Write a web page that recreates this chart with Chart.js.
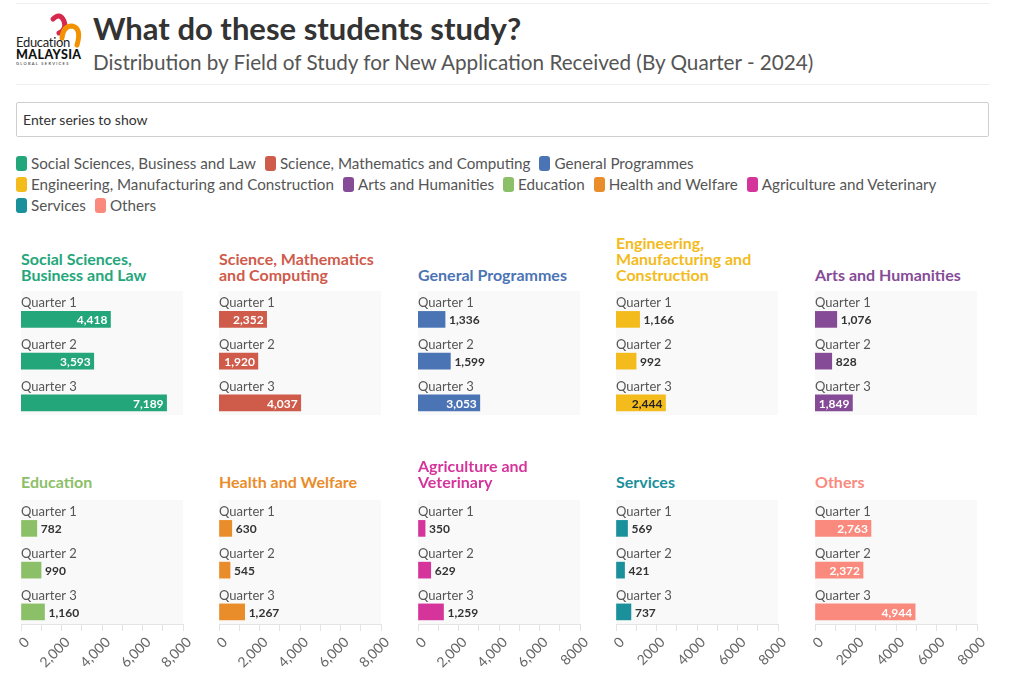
<!DOCTYPE html>
<html>
<head>
<meta charset="utf-8">
<script src="https://cdn.jsdelivr.net/npm/chart.js@4.4.1/dist/chart.umd.min.js"></script>
<style>
  body { margin: 0; width: 1024px; height: 686px; overflow: hidden; position: relative; background: #fff; font-family: Lato, "Noto Sans", sans-serif; color: #333; }
  .rule { position: absolute; left: 16px; width: 974px; height: 1px; background: #f0f0f0; }
  #title { position: absolute; left: 93px; top: 11px; font-size: 31px; line-height: 34px; font-weight: 700; color: #333; white-space: nowrap; }
  #subtitle { position: absolute; left: 93px; top: 49px; font-size: 20.7px; line-height: 26px; color: #555; white-space: nowrap; }
  #search { position: absolute; left: 16px; top: 102px; width: 973px; height: 35px; border: 1px solid #cfcfcf; border-radius: 2px; box-sizing: border-box; font-size: 14px; color: #333; padding: 8px 6px; }
  #legend { position: absolute; left: 16px; top: 154px; width: 975px; display: flex; flex-wrap: wrap; row-gap: 3px; font-size: 15.2px; color: #555; }
  .item { display: flex; align-items: center; margin-right: 9px; height: 18px; }
  .sw { width: 11px; height: 15px; border-radius: 3px; margin-right: 4px; }
  .ptitle { position: absolute; width: 190px; font-size: 16px; font-weight: 700; line-height: 16px; }
  canvas { position: absolute; }
</style>
</head>
<body>
<div class="rule" style="top:3px"></div>
<div class="rule" style="top:84px"></div>
<svg style="position:absolute;left:0;top:0" width="90" height="72" viewBox="0 0 90 72">
  <path d="M53,19 Q60,12 64,21 Q67,30 59,33" fill="none" stroke="#d62a4c" stroke-width="5" stroke-linecap="round"/>
  <path d="M62,38 Q63,26 72,26 Q82,28 77,45" fill="none" stroke="#f29200" stroke-width="5" stroke-linecap="round"/>
  <text x="16" y="47" font-size="13" font-family="Lato" fill="#222" letter-spacing="-0.3">Education</text>
  <text x="16" y="59" font-size="12.5" font-weight="900" font-family="Lato" fill="#111" letter-spacing="0.4">MALAYSIA</text>
  <text x="16" y="65" font-size="4" font-family="Lato" fill="#222" letter-spacing="1.3">GLOBAL SERVICES</text>
</svg>
<div id="title">What do these students study?</div>
<div id="subtitle">Distribution by Field of Study for New Application Received (By Quarter - 2024)</div>
<div id="search">Enter series to show</div>
<div id="legend"></div>
<script>
const quarters = ['Quarter 1', 'Quarter 2', 'Quarter 3'];
const fields = [
  'Social Sciences, Business and Law',
  'Science, Mathematics and Computing',
  'General Programmes',
  'Engineering, Manufacturing and Construction',
  'Arts and Humanities',
  'Education',
  'Health and Welfare',
  'Agriculture and Veterinary',
  'Services',
  'Others'
];
// panel headings as they wrap in the original
const fieldTitles = [
  'Social Sciences,<br>Business and Law',
  'Science, Mathematics<br>and Computing',
  'General Programmes',
  'Engineering,<br>Manufacturing and<br>Construction',
  'Arts and Humanities',
  'Education',
  'Health and Welfare',
  'Agriculture and<br>Veterinary',
  'Services',
  'Others'
];
const colors = ['#24a67b', '#cf5b4b', '#4b74b5', '#f3bb1c', '#864b97', '#8cc068', '#e98d2a', '#d5349b', '#1a909b', '#f98a7d'];
const quarter1 = [4418, 2352, 1336, 1166, 1076, 782, 630, 350, 569, 2763];
const quarter2 = [3593, 1920, 1599, 992, 828, 990, 545, 629, 421, 2372];
const quarter3 = [7189, 4037, 3053, 2444, 1849, 1160, 1267, 1259, 737, 4944];

const ticksComma = ['0', '', '2,000', '', '4,000', '', '6,000', '', '8,000'];
const ticksMixed = ['0', '', '2,000', '', '4,000', '', '6,000', '', '8000'];
const ticksPlain = ['0', '', '2000', '', '4000', '', '6000', '', '8000'];
const bottomTicks = [ticksComma, ticksComma, ticksMixed, ticksPlain, ticksPlain];

const colLeft = [21, 219, 418, 616, 815];
const rowTop = [291, 500];
const titleBottom = [283, 490];
const plotW = 162, plotH = 124, axisH = 62, padL = 14, padR = 30;
const yMin = -0.68, yMax = 2.29;

// legend
const legend = document.getElementById('legend');
fields.forEach((f, i) => {
  const it = document.createElement('div');
  it.className = 'item';
  it.innerHTML = '<span class="sw" style="background:' + colors[i] + '"></span>' + f;
  legend.appendChild(it);
});

const fmt = v => v.toLocaleString('en-US');

const panelPlugin = {
  id: 'panel',
  beforeDraw(chart) {
    const a = chart.chartArea, ctx = chart.ctx;
    ctx.save();
    ctx.fillStyle = '#f9f9f9';
    ctx.fillRect(a.left, a.top, a.right - a.left, a.bottom - a.top);
    ctx.restore();
  },
  afterDatasetsDraw(chart) {
    const ctx = chart.ctx;
    const ds = chart.data.datasets[0];
    ctx.save();
    chart.getDatasetMeta(0).data.forEach((bar, i) => {
      const top = bar.y - bar.height / 2;
      ctx.font = '13px Lato';
      ctx.fillStyle = '#555';
      ctx.textAlign = 'left';
      ctx.textBaseline = 'alphabetic';
      ctx.fillText(quarters[i], chart.chartArea.left, top - 4);
      const txt = fmt(ds.data[i].x);
      ctx.font = 'bold 12px Lato';
      ctx.textBaseline = 'middle';
      const w = ctx.measureText(txt).width;
      if (bar.x - bar.base >= w + 6) {
        ctx.textAlign = 'right';
        ctx.fillStyle = ds.labelInside;
        ctx.fillText(txt, bar.x - 3, bar.y + 1);
      } else {
        ctx.textAlign = 'left';
        ctx.fillStyle = '#333';
        ctx.fillText(txt, bar.x + 4, bar.y + 1);
      }
    });
    ctx.restore();
  }
};

fields.forEach((f, k) => {
  const row = Math.floor(k / 5), col = k % 5;
  const left = colLeft[col], top = rowTop[row];
  const isBottom = row === 1;

  const t = document.createElement('div');
  t.className = 'ptitle';
  t.style.left = left + 'px';
  t.style.bottom = (686 - titleBottom[row]) + 'px';
  t.style.color = colors[k];
  t.innerHTML = fieldTitles[k];
  document.body.appendChild(t);

  const cv = document.createElement('canvas');
  const h = isBottom ? plotH + axisH : plotH;
  const w = plotW + padL + padR;
  cv.width = w; cv.height = h;
  cv.style.left = (left - padL) + 'px'; cv.style.top = top + 'px';
  cv.style.width = w + 'px'; cv.style.height = h + 'px';
  document.body.appendChild(cv);

  const values = [quarter1[k], quarter2[k], quarter3[k]];
  const labels = bottomTicks[col];

  new Chart(cv, {
    type: 'bar',
    data: {
      datasets: [{
        data: values.map((v, i) => ({ x: v, y: i })),
        backgroundColor: colors[k],
        barThickness: 16,
        labelInside: k === 3 ? '#222' : '#fff'
      }]
    },
    options: {
      indexAxis: 'y',
      responsive: false,
      animation: false,
      layout: { padding: { left: padL, right: padR, top: 0, bottom: 0 } },
      plugins: { legend: { display: false }, tooltip: { enabled: false } },
      scales: {
        y: {
          type: 'linear', display: false, reverse: true, offset: false,
          min: yMin, max: yMax,
          afterBuildTicks(scale) { scale.min = yMin; scale.max = yMax; }
        },
        x: {
          display: isBottom,
          min: 0, max: 8000,
          grid: { drawOnChartArea: false, drawTicks: true, tickLength: 7, color: '#e4e4e4' },
          border: { color: '#e4e4e4' },
          ticks: {
            stepSize: 1000, autoSkip: false, maxRotation: 45, minRotation: 45,
            labelOffset: 6,
            color: '#666', font: { family: 'Lato', size: 14 },
            callback: (v, i) => labels[i]
          },
          afterFit(scale) {
            if (isBottom) { scale.height = axisH; scale.paddingLeft = 0; scale.paddingRight = 0; }
          }
        }
      }
    },
    plugins: [panelPlugin]
  });
});
</script>
</body>
</html>
